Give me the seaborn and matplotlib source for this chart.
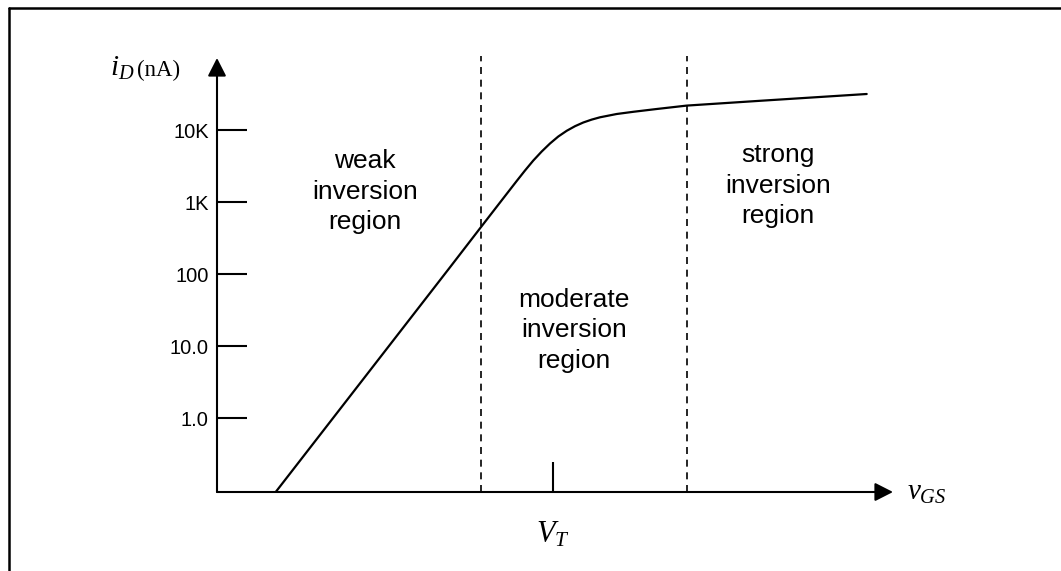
import matplotlib
matplotlib.use("Agg")
import matplotlib.pyplot as plt
import seaborn as sns
import pandas as pd
from matplotlib.lines import Line2D

# ---- data (v_GS in arbitrary units, i_D in nA) ----
v_gs = [0.587, 2.33, 2.64, 2.83, 2.997, 3.08, 3.163, 3.247, 3.33, 3.413,
        3.497, 3.58, 3.663, 3.747, 3.83, 3.997, 4.163, 4.397, 4.697,
        5.43, 6.497]
i_d = [0.0938, 124, 449, 984, 1958, 2738, 3767, 5025, 6494, 8123,
       9747, 11293, 12715, 13946, 15012, 16681, 17896, 19572, 21826,
       25443, 31623]
region_bounds = [2.64, 4.70]
v_t = 3.36
y_ticks = [1, 10, 100, 1000, 10000]
y_tick_labels = ["1.0", "10.0", "100", "1K", "10K"]
region_labels = ["weak\ninversion\nregion",
                 "moderate\ninversion\nregion",
                 "strong\ninversion\nregion"]

sns.set_style("white")
plt.rcParams["font.family"] = ["Liberation Sans", "DejaVu Sans"]
plt.rcParams["text.color"] = "black"
plt.rcParams["mathtext.fontset"] = "custom"
plt.rcParams["mathtext.rm"] = "Liberation Serif"
plt.rcParams["mathtext.it"] = "Liberation Serif:italic"

W, H = 1061, 571
fig = plt.figure(figsize=(W / 100, H / 100), dpi=100)
x0, x1 = 217, 893
yb, yt = 492, 55
ax = fig.add_axes([x0 / W, 1 - yb / H, (x1 - x0) / W, (yb - yt) / H])

df = pd.DataFrame({"v": v_gs, "i": i_d})
sns.lineplot(data=df, x="v", y="i", ax=ax, color="black", lw=1.6,
             sort=False, estimator=None, solid_joinstyle="round")
ax.set_yscale("log")
ylo = 10 ** (4 - (yb - 130) / 72)
yhi = 10 ** (4 + (130 - yt) / 72)
ax.set_ylim(ylo, yhi)
ax.set_xlim(0, (x1 - x0) / 100)

for s in ax.spines.values():
    s.set_visible(False)

ax.vlines(region_bounds, ylo, 1.08e5, colors="black", lw=1.2,
          linestyles=(0, (4.2, 3.4)))

# axes with arrows
arrow = dict(arrowstyle="-|>,head_length=0.55,head_width=0.28",
             color="black", lw=1.5, shrinkA=0, shrinkB=0,
             mutation_scale=20)
ax.annotate("", xy=(0, 1e5), xytext=(0, ylo), xycoords="data",
            arrowprops=arrow, annotation_clip=False)
ax.annotate("", xy=((x1 - x0) / 100, ylo), xytext=(0, ylo),
            xycoords="data", arrowprops=arrow, annotation_clip=False)

ax.set_yticks(y_ticks)
ax.set_yticklabels(y_tick_labels)
ax.minorticks_off()
ax.tick_params(axis="y", direction="in", length=21.6, width=1.5,
               labelsize=14.5, pad=6, left=True, colors="black")
ax.set_xticks([v_t])
ax.set_xticklabels([r"$V_T$"])
ax.tick_params(axis="x", direction="in", length=21.6, width=1.5,
               labelsize=22, pad=20, bottom=True, colors="black")
ax.set_xlabel("")
ax.set_ylabel("")
ax.grid(False)

def ft(x, y, s, **kw):
    fig.text(x / W, 1 - y / H, s, color="black", **kw)

# region labels (one line per text, baselines)
centers = [365, 574, 778]
baselines = [[168, 199, 229], [307, 337, 368], [162, 193, 223]]
for lab, cx, bl in zip(region_labels, centers, baselines):
    for line, by in zip(lab.split("\n"), bl):
        ft(cx, by, line, ha="center", va="baseline", fontsize=19)

# axis titles
ft(110, 76, r"$i_D$", ha="left", va="baseline", fontsize=21)
ft(137, 76, "(nA)", ha="left", va="baseline", fontsize=16.5,
   family="Liberation Serif")
ft(907, 500, r"$v_{GS}$", ha="left", va="baseline", fontsize=21)

# partial frame (top and left only)
fig.add_artist(Line2D([9 / W, 1], [1 - 8 / H, 1 - 8 / H],
                      transform=fig.transFigure, color="black", lw=1.8))
fig.add_artist(Line2D([9 / W, 9 / W], [0, 1 - 8 / H],
                      transform=fig.transFigure, color="black", lw=1.8))

fig.savefig("out.png", dpi=100, facecolor="white")
